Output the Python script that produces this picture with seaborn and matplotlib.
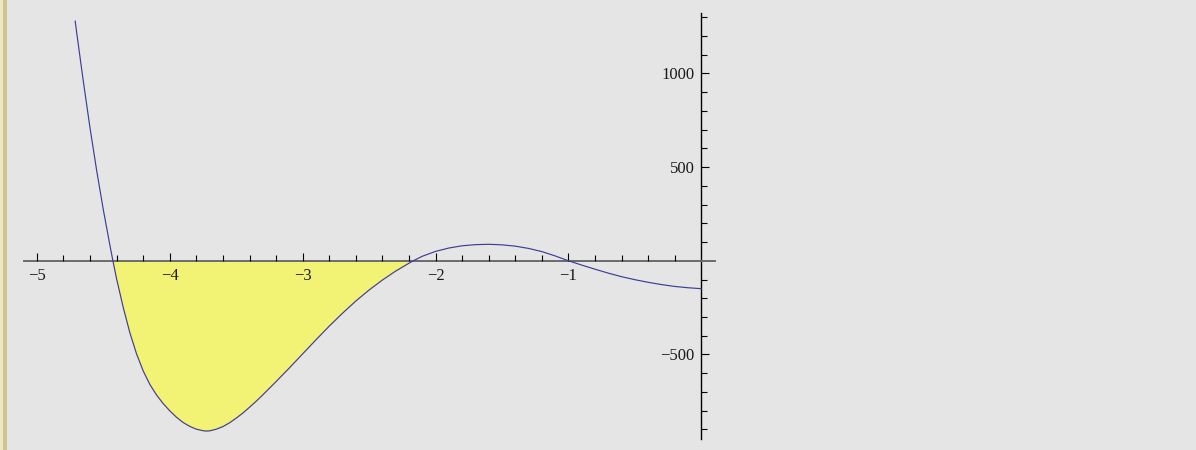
import matplotlib
matplotlib.use("Agg")
import matplotlib.pyplot as plt
import matplotlib.patches as mpatches
from matplotlib.ticker import FixedLocator, NullFormatter
import numpy as np
import pandas as pd
import seaborn as sns

# Sampled curve values
x_vals = [-4.712, -4.70, -4.65, -4.60, -4.55, -4.50, -4.45, -4.428, -4.40, -4.35,
          -4.30, -4.25, -4.20, -4.15, -4.10, -4.05, -4.00, -3.95, -3.90, -3.85,
          -3.80, -3.75, -3.73, -3.70, -3.65, -3.60, -3.55, -3.50, -3.45, -3.40,
          -3.35, -3.30, -3.2, -3.1, -3.0, -2.9, -2.8, -2.7, -2.6, -2.5,
          -2.4, -2.3, -2.2, -2.167, -2.1, -2.0, -1.9, -1.8, -1.7, -1.6,
          -1.5, -1.4, -1.3, -1.2, -1.1, -1.0, -0.9, -0.8, -0.7, -0.6,
          -0.5, -0.4, -0.3, -0.2, -0.1, 0.0]
y_vals = [1280, 1215, 955, 708, 481, 272, 81, 0, -97, -250,
          -385, -497, -588, -660, -716, -762, -801, -835, -863, -884,
          -899, -907, -909, -908, -899, -885, -865, -840, -813, -782,
          -750, -716, -645, -572, -497, -422, -349, -280, -215, -156,
          -103, -55, -13, 0, 24, 50, 68, 80, 86, 88,
          85, 78, 66, 49, 26, 0, -23, -45, -66, -85,
          -101, -115, -127, -137, -144, -149]

# Shaded region between the first two zeros
fill_from, fill_to = -4.428, -2.167

x_major = [-5, -4, -3, -2, -1]
x_minor = [-4.8, -4.6, -4.4, -4.2, -3.8, -3.6, -3.4, -3.2, -2.8, -2.6, -2.4, -2.2,
           -1.8, -1.6, -1.4, -1.2, -0.8, -0.6, -0.4, -0.2]
y_major = [-500, 500, 1000]
y_minor = [-900, -800, -700, -600, -400, -300, -200, -100, 100, 200, 300, 400,
           600, 700, 800, 900, 1100, 1200, 1300]

sns.set_theme(style="white")
plt.rcParams["font.family"] = ["Liberation Serif", "DejaVu Serif"]

bg = "#e5e5e5"
fig = plt.figure(figsize=(11.96, 4.5), dpi=100, facecolor=bg)

# Cell bracket strip at the left edge
fig.patches.append(mpatches.Rectangle((0, 0), 3.5 / 1196, 1, transform=fig.transFigure,
                                      facecolor="#efe7c4", edgecolor="none"))
fig.patches.append(mpatches.Rectangle((3.5 / 1196, 0), 3.5 / 1196, 1, transform=fig.transFigure,
                                      facecolor="#d0c590", edgecolor="none"))

left, right = 23.6 / 1196, 714.6 / 1196
bottom, top = (450 - 439.3) / 450, (450 - 13.3) / 450
ax = fig.add_axes([left, bottom, right - left, top - bottom])
ax.set_facecolor(bg)
ax.set_axisbelow(False)

df = pd.DataFrame({"x": x_vals, "y": y_vals})
xs = np.array(x_vals)
ys = np.array(y_vals)
mask = (xs >= fill_from) & (xs <= fill_to)
ax.fill_between(xs, ys, 0, where=mask, color="#f2f275", linewidth=0, zorder=1)

sns.lineplot(data=df, x="x", y="y", ax=ax, color="#3d3d99", linewidth=0.85,
             sort=False, zorder=3)

ax.set_xlim(-5.1, 0.1)
ax.set_ylim(-953, 1321)
ax.set_xlabel("")
ax.set_ylabel("")

for side in ("top", "right"):
    ax.spines[side].set_visible(False)
ax.spines["bottom"].set_position(("data", 0))
ax.spines["left"].set_position(("data", 0))
ax.spines["bottom"].set_color("#6b6b6b")
ax.spines["bottom"].set_linewidth(1.4)
ax.spines["left"].set_color("black")
ax.spines["left"].set_linewidth(1.0)

ax.xaxis.set_major_locator(FixedLocator(x_major))
ax.xaxis.set_minor_locator(FixedLocator(x_minor))
ax.yaxis.set_major_locator(FixedLocator(y_major))
ax.yaxis.set_minor_locator(FixedLocator(y_minor))
ax.set_xticklabels([f"{v:d}".replace("-", "\u2212") for v in x_major])
ax.set_yticklabels([f"{v:d}".replace("-", "\u2212") for v in y_major])
ax.xaxis.set_minor_formatter(NullFormatter())
ax.yaxis.set_minor_formatter(NullFormatter())

ax.tick_params(axis="x", which="major", direction="in", length=6, width=0.8,
               color="black", pad=5, labelsize=12, labelcolor="#1a1a1a")
ax.tick_params(axis="x", which="minor", direction="in", length=4, width=0.8, color="black")
ax.tick_params(axis="y", which="major", direction="in", length=6, width=0.8,
               color="black", pad=5, labelsize=12, labelcolor="#1a1a1a")
ax.tick_params(axis="y", which="minor", direction="in", length=4, width=0.8, color="black")
ax.xaxis.set_ticks_position("bottom")
ax.yaxis.set_ticks_position("left")

fig.savefig("out.png", dpi=100, facecolor=bg)
